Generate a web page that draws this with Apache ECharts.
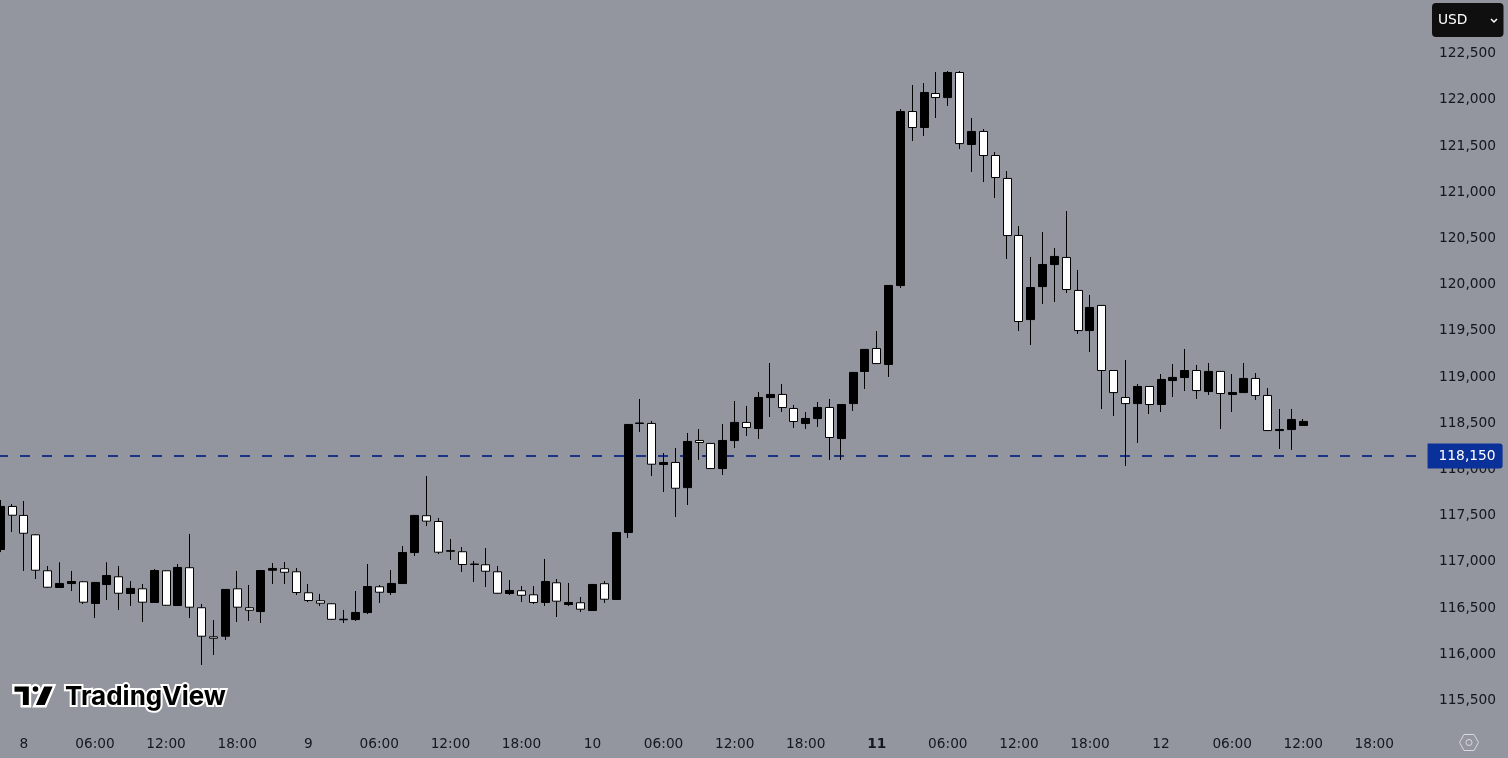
<!DOCTYPE html>
<html><head><meta charset="utf-8">
<style>html,body{margin:0;padding:0;background:#93969f}#c{width:1508px;height:758px}</style>
<script src="https://cdn.jsdelivr.net/npm/echarts@6/dist/echarts.min.js"></script>
</head><body><div id="c"></div>
<script>
var opens=[117128,117594,117497,117287,116898,116717,116760,116779,116544,116749,116833,116652,116703,116555,116898,116522,116931,116498,116184,116190,116703,116498,116457,116904,116920,116887,116660,116574,116541,116368,116370,116446,116725,116663,116760,117095,117494,117431,117110,117104,116966,116963,116887,116652,116682,116638,116555,116768,116533,116552,116468,116758,116587,117312,118492,118492,118048,118070,117798,118308,118276,118004,118307,118503,118437,118772,118806,118654,118491,118545,118665,118329,118707,119054,119303,119130,119984,121867,121694,122062,122018,122289,121510,121651,121391,121143,120526,119616,119973,120211,120288,119931,119497,119769,119065,118773,118707,118892,118697,118956,118989,119065,118837,119055,118805,118826,118979,118795,118415,118426,118470];
var closes=[117594,117499,117304,116904,116720,116761,116782,116558,116772,116847,116655,116707,116558,116901,116525,116934,116504,116190,116168,116696,116504,116471,116901,116923,116882,116663,116576,116547,116373,116374,116447,116728,116666,116761,117096,117497,117435,117099,117115,116966,116971,116893,116655,116685,116633,116555,116782,116569,116555,116482,116750,116590,117312,118481,118497,118051,118070,117791,118297,118286,118004,118308,118503,118448,118773,118806,118664,118513,118546,118665,118340,118697,119044,119293,119140,119985,121867,121694,122073,122018,122289,121520,121651,121391,121153,120525,119595,119963,120212,120299,119941,119497,119747,119065,118826,118707,118892,118697,118968,118990,119065,118848,119055,118816,118827,118979,118794,118415,118427,118535,118514];
var lows=[117100,117317,116896,116809,116715,116712,116679,116539,116387,116582,116474,116517,116344,116550,116520,116517,116387,115879,115987,116149,116344,116355,116333,116755,116755,116636,116560,116517,116368,116333,116355,116430,116550,116636,116755,117058,117382,117079,117015,116885,116777,116722,116650,116636,116560,116539,116517,116398,116517,116452,116463,116550,116582,117253,118400,117923,117750,117480,117610,118097,117999,117934,118226,118356,118324,118562,118616,118443,118432,118454,118097,118097,118627,118865,119135,118995,119957,121548,121602,121797,121927,121461,121213,121104,120931,120271,119492,119341,119784,119806,119903,119460,119265,118648,118573,118032,118281,118594,118616,118778,118843,118757,118800,118432,118616,118821,118746,118410,118216,118205,118465];
var highs=[117664,117621,117653,117292,116950,116990,116896,116784,116777,116990,116950,116787,116755,116917,116903,116971,117296,116539,116365,116701,116896,116744,116906,116982,116993,116928,116755,116647,116546,116474,116679,116971,116744,116906,117166,117502,117923,117469,117242,117155,117004,117144,116950,116798,116733,116733,117026,116809,116766,116614,116755,116787,117317,118486,118757,118519,118172,118226,118389,118432,118281,118486,118735,118681,118832,119146,118919,118692,118616,118724,118757,118702,119049,119298,119492,119990,121894,122154,122175,122294,122305,122305,121797,121678,121429,121223,120628,120293,120563,120390,120790,120152,119882,119774,119070,119179,118919,118897,119027,119135,119298,119125,119146,119060,119027,119146,119038,118876,118649,118649,118540];
var timeLabels={2:'8',8:'06:00',14:'12:00',20:'18:00',26:'9',32:'06:00',38:'12:00',44:'18:00',50:'10',56:'06:00',62:'12:00',68:'18:00',74:'11',80:'06:00',86:'12:00',92:'18:00',98:'12',104:'06:00',110:'12:00',116:'18:00'};
var slotCount=121;
var lastPrice=118150;
var lastPriceLevel=118139;
var categories=[];for(var i=0;i<slotCount;i++){categories.push(timeLabels[i]||'');}
var ohlc=opens.map(function(o,i){return [o,closes[i],lows[i],highs[i]];});
var textColor='#131722';
var fam='"DejaVu Sans",sans-serif';
var chart=echarts.init(document.getElementById('c'),null,{renderer:'canvas'});
chart.setOption({
  animation:false,
  backgroundColor:'#93969f',
  grid:{left:-5.65,top:6.8,width:1433.2,height:739.4,outerBoundsMode:'none'},
  xAxis:{type:'category',data:categories,boundaryGap:true,
    axisLine:{show:false},axisTick:{show:false},splitLine:{show:false},
    axisLabel:{interval:0,margin:-9,color:textColor,fontFamily:fam,fontSize:13.7,hideOverlap:false,
      formatter:function(v){return v==='11'?'{b|11}':v;},
      rich:{b:{fontWeight:'bold',color:textColor,fontFamily:fam,fontSize:13.7}}}},
  yAxis:{type:'value',position:'right',min:115000,max:123000,interval:500,scale:true,
    axisLine:{show:false},axisTick:{show:false},splitLine:{show:false},
    axisLabel:{margin:11.5,align:'left',showMinLabel:false,showMaxLabel:false,color:textColor,fontFamily:fam,fontSize:13.8,
      formatter:function(v){return '{a|'+v.toLocaleString('en-US')+'}';},rich:{a:{padding:[1,0,0,0],color:textColor,fontFamily:fam,fontSize:13.8}}}},
  series:[{type:'candlestick',data:ohlc,barWidth:8.5,clip:false,z:2,
    itemStyle:{color:'#000000',color0:'#ffffff',borderColor:'#000000',borderColor0:'#000000',borderWidth:1},
    markLine:{silent:true,symbol:'none',z:1,animation:false,
      lineStyle:{color:'#1a3585',width:2.2,type:[10,12],dashOffset:18.35},
      label:{show:true,position:'end',distance:0,color:'#ffffff',fontFamily:fam,fontSize:13.8,
        backgroundColor:'#0a3199',padding:[6,7,5,11],borderRadius:[0,3,3,0],
        formatter:function(){return lastPrice.toLocaleString('en-US');}},
      data:[{yAxis:lastPriceLevel}]}}],
  graphic:[
    {type:'rect',shape:{x:1432,y:3,width:71.5,height:34,r:4},style:{fill:'#0f0f10'},z:10},
    {type:'text',style:{x:1438,y:20,text:'USD',fill:'#ffffff',font:'13.8px '+fam,textVerticalAlign:'middle'},z:11},
    {type:'polyline',shape:{points:[[1491,19],[1494,22],[1497,19]]},style:{stroke:'#ffffff',lineWidth:1.5,fill:null},z:11},
    {type:'polygon',shape:{points:[[13.3,685.3],[30,685.3],[30,706.3],[21.7,706.3],[21.7,693],[13.3,693]]},style:{fill:'#000',stroke:'#fff',lineWidth:2.4,lineJoin:'miter'},z:10},
    {type:'polygon',shape:{points:[[43.5,685.3],[54.5,685.3],[45.5,706.3],[34,706.3]]},style:{fill:'#000',stroke:'#fff',lineWidth:2.4,lineJoin:'miter'},z:10},
    {type:'circle',shape:{cx:35.5,cy:689,r:4},style:{fill:'#000',stroke:'#fff',lineWidth:2.4},z:10},
    {type:'text',style:{x:65,y:697.5,text:'TradingView',fill:'#000',stroke:'#fff',lineWidth:4,font:'bold 26px Inter,sans-serif',textVerticalAlign:'middle'},z:10},
    {type:'polygon',shape:{points:[[1459.5,742.5],[1464,734.5],[1474,734.5],[1478.5,742.5],[1474,750.5],[1464,750.5]]},style:{fill:null,stroke:'#d9dade',lineWidth:1},z:10},
    {type:'circle',shape:{cx:1469,cy:742.5,r:3},style:{fill:null,stroke:'#d9dade',lineWidth:1},z:10}
  ]
});
</script></body></html>
